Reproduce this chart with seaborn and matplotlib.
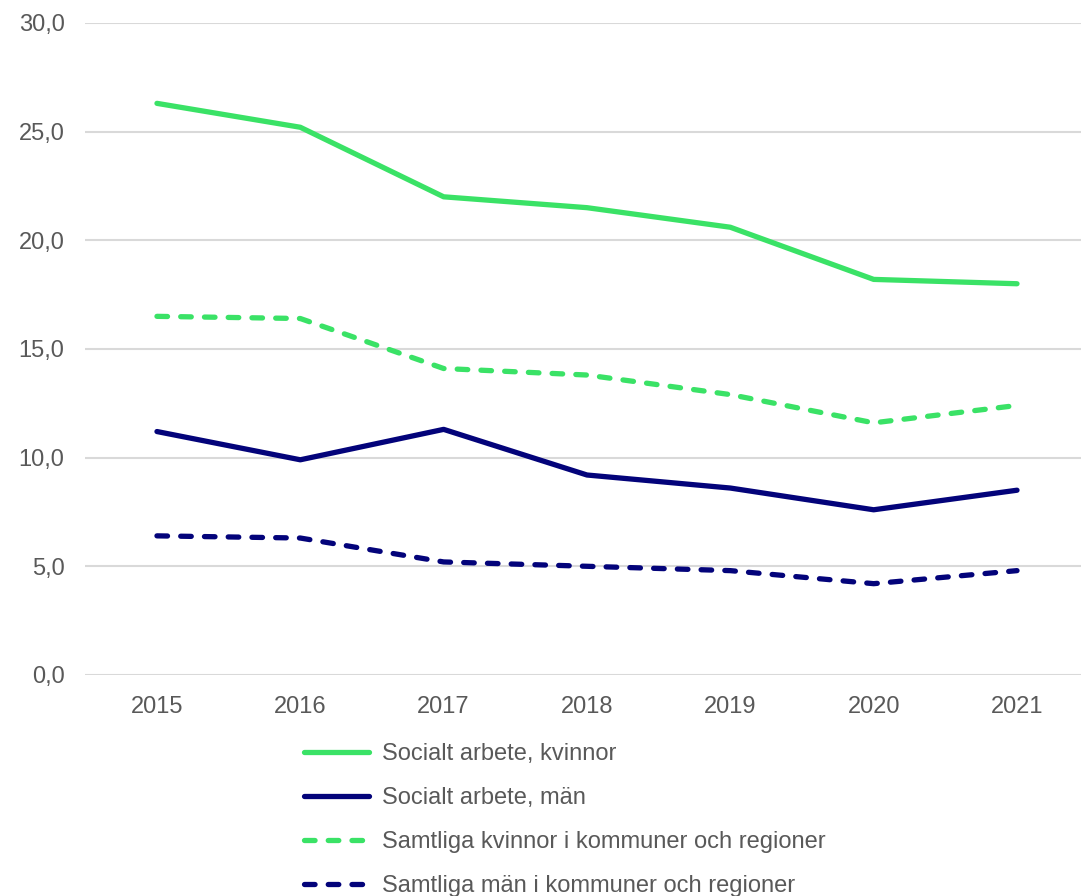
import numpy as np
import pandas as pd
import matplotlib
matplotlib.use("Agg")
import matplotlib.pyplot as plt
from matplotlib.ticker import FuncFormatter
import seaborn as sns

# Data
years = [2015, 2016, 2017, 2018, 2019, 2020, 2021]
socialt_kvinnor = [26.3, 25.2, 22.0, 21.5, 20.6, 18.2, 18.0]
socialt_man = [11.2, 9.9, 11.3, 9.2, 8.6, 7.6, 8.5]
samtliga_kvinnor = [16.5, 16.4, 14.1, 13.8, 12.9, 11.6, 12.4]
samtliga_man = [6.4, 6.3, 5.2, 5.0, 4.8, 4.2, 4.8]

labels = [
    "Socialt arbete, kvinnor",
    "Socialt arbete, män",
    "Samtliga kvinnor i kommuner och regioner",
    "Samtliga män i kommuner och regioner",
]

GREEN = "#3ae266"
NAVY = "#03037a"
TEXT = "#595959"
GRID = "#d9d9d9"

sns.set_style("white")
plt.rcParams["font.family"] = ["Liberation Sans", "DejaVu Sans"]

fig = plt.figure(figsize=(10.81, 8.96), dpi=100)
ax = fig.add_axes([0.0789, 0.2467, 0.9282, 0.7277])

series = [
    (socialt_kvinnor, GREEN, False),
    (socialt_man, NAVY, False),
    (samtliga_kvinnor, GREEN, True),
    (samtliga_man, NAVY, True),
]

lw = 3.8
for (vals, color, dashed), label in zip(series, labels):
    df = pd.DataFrame({"year": years, "value": vals})
    line_kw = dict(color=color, linewidth=lw, label=label,
                   solid_capstyle="round", dash_capstyle="round")
    if dashed:
        line_kw["dashes"] = (2.0, 2.5)
    sns.lineplot(data=df, x="year", y="value", ax=ax, **line_kw)

ax.set_xlim(2014.5, 2021.5)
ax.set_ylim(0, 30)
ax.set_yticks(np.arange(0, 31, 5))
ax.set_xticks(years)
ax.yaxis.set_major_formatter(FuncFormatter(lambda v, p: f"{v:.1f}".replace(".", ",")))
ax.set_xlabel("")
ax.set_ylabel("")

ax.grid(axis="y", color=GRID, linewidth=1.5)
ax.grid(axis="x", visible=False)
ax.set_axisbelow(True)
for s in ax.spines.values():
    s.set_visible(False)
ax.tick_params(axis="both", length=0, labelsize=17, labelcolor=TEXT)
ax.tick_params(axis="y", pad=15)
ax.tick_params(axis="x", pad=15)

handles, leg_labels = ax.get_legend_handles_labels()
if ax.get_legend():
    ax.get_legend().remove()
fig.legend(
    handles, leg_labels,
    loc="upper left",
    bbox_to_anchor=(0.281, 0.171),
    frameon=False,
    fontsize=17,
    labelcolor=TEXT,
    handlelength=2.75,
    handletextpad=0.55,
    labelspacing=0.94,
    borderpad=0,
    borderaxespad=0,
)

fig.savefig("out.png", dpi=100)
